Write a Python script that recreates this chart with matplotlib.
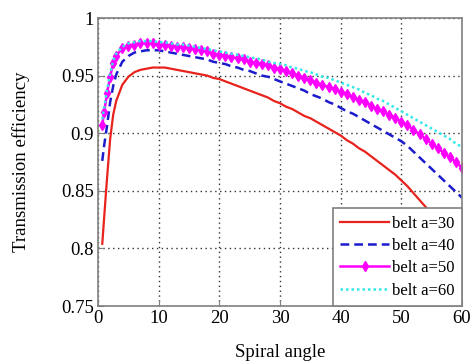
import matplotlib
matplotlib.use("Agg")
import matplotlib.pyplot as plt

angle = [0.7, 1, 1.5, 2, 2.5, 3] + list(range(4, 61))

eff_a30 = [0.804, 0.826, 0.862, 0.895, 0.916, 0.928,
           0.942, 0.949, 0.953, 0.955, 0.956, 0.957, 0.957, 0.957, 0.956, 0.955,
           0.954, 0.953, 0.952, 0.951, 0.950, 0.948, 0.947, 0.945, 0.943, 0.941,
           0.939, 0.937, 0.935, 0.933, 0.931, 0.928, 0.926, 0.923, 0.921, 0.918,
           0.915, 0.913, 0.910, 0.907, 0.904, 0.901, 0.898, 0.894, 0.891, 0.887,
           0.884, 0.880, 0.876, 0.872, 0.868, 0.864, 0.859, 0.854, 0.848, 0.842,
           0.836, 0.830, 0.824, 0.817, 0.811, 0.804, 0.797]

eff_a40 = [0.876, 0.889, 0.907, 0.927, 0.941, 0.951,
           0.962, 0.967, 0.970, 0.971, 0.972, 0.972, 0.972, 0.971, 0.970, 0.969,
           0.968, 0.967, 0.966, 0.965, 0.964, 0.962, 0.961, 0.960, 0.958, 0.957,
           0.955, 0.954, 0.952, 0.950, 0.949, 0.947, 0.945, 0.943, 0.941, 0.939,
           0.937, 0.934, 0.932, 0.930, 0.927, 0.925, 0.922, 0.919, 0.917, 0.914,
           0.911, 0.908, 0.905, 0.902, 0.899, 0.896, 0.893, 0.889, 0.884, 0.879,
           0.874, 0.869, 0.864, 0.859, 0.854, 0.849, 0.844]

eff_a50 = [0.907, 0.918, 0.935, 0.949, 0.961, 0.967,
           0.974, 0.976, 0.977, 0.978, 0.978, 0.978, 0.977, 0.977, 0.976, 0.975,
           0.975, 0.974, 0.973, 0.972, 0.971, 0.969, 0.968, 0.967, 0.966, 0.965,
           0.964, 0.962, 0.961, 0.960, 0.959, 0.957, 0.956, 0.954, 0.952, 0.950,
           0.948, 0.946, 0.944, 0.942, 0.940, 0.938, 0.936, 0.934, 0.931, 0.929,
           0.927, 0.924, 0.921, 0.919, 0.916, 0.913, 0.910, 0.907, 0.903, 0.899,
           0.895, 0.891, 0.887, 0.883, 0.879, 0.875, 0.870]

eff_a60 = [0.912, 0.922, 0.938, 0.952, 0.963, 0.969,
           0.975, 0.978, 0.979, 0.980, 0.980, 0.980, 0.979, 0.979, 0.978, 0.977,
           0.977, 0.976, 0.975, 0.974, 0.973, 0.972, 0.971, 0.970, 0.969, 0.968,
           0.967, 0.966, 0.965, 0.964, 0.962, 0.961, 0.960, 0.959, 0.957, 0.956,
           0.954, 0.953, 0.951, 0.949, 0.948, 0.946, 0.944, 0.942, 0.940, 0.938,
           0.935, 0.933, 0.930, 0.928, 0.925, 0.922, 0.919, 0.916, 0.913, 0.910,
           0.907, 0.904, 0.901, 0.898, 0.895, 0.891, 0.888]

labels = ["belt a=30", "belt a=40", "belt a=50", "belt a=60"]
xticks = [0, 10, 20, 30, 40, 50, 60]
yticks = [0.75, 0.8, 0.85, 0.9, 0.95, 1.0]
yticklabels = ["0.75", "0.8", "0.85", "0.9", "0.95", "1"]

plt.rcParams['font.family'] = ['Liberation Serif', 'DejaVu Serif']

fig = plt.figure(figsize=(4.74, 3.63), dpi=100)
ax = fig.add_axes([0.2068, 0.157, 0.7679, 0.7934])

ax.plot(angle, eff_a30, color='#e8221c', lw=1.6, label=labels[0])
ax.plot(angle, eff_a40, color='#1c1ccc', lw=1.8, ls=(0, (3.5, 2)), label=labels[1])
ax.plot(angle, eff_a50, color='#ff00ff', lw=1.8, marker='d', ms=5.6,
        markeredgewidth=1.0, label=labels[2])
ax.plot(angle, eff_a60, color='#33e8e8', lw=1.8, ls=(0, (1, 1.2)), label=labels[3])

ax.set_xlim(0, 60)
ax.set_ylim(0.75, 1.0)
ax.set_xticks(xticks)
ax.set_yticks(yticks)
ax.set_yticklabels(yticklabels)
ax.tick_params(direction='in', length=4, color='#808080', labelsize=13.5, pad=3)
ax.grid(True, color='#333333', ls=(0, (1, 2.5)), lw=1.0)
for s in ax.spines.values():
    s.set_color('#808080')
    s.set_linewidth(1.2)

ax.set_xlabel("Spiral angle", fontsize=13.5, labelpad=12)
ax.set_ylabel("Transmission efficiency", fontsize=13.5, labelpad=22)

leg = ax.legend(loc='lower right', borderaxespad=0, fontsize=12, handlelength=2.9,
                labelspacing=0.38, handletextpad=0.2, borderpad=0.45, fancybox=False,
                framealpha=1, edgecolor='#808080')
leg.get_frame().set_linewidth(1.2)

fig.savefig("out.png", dpi=100)
